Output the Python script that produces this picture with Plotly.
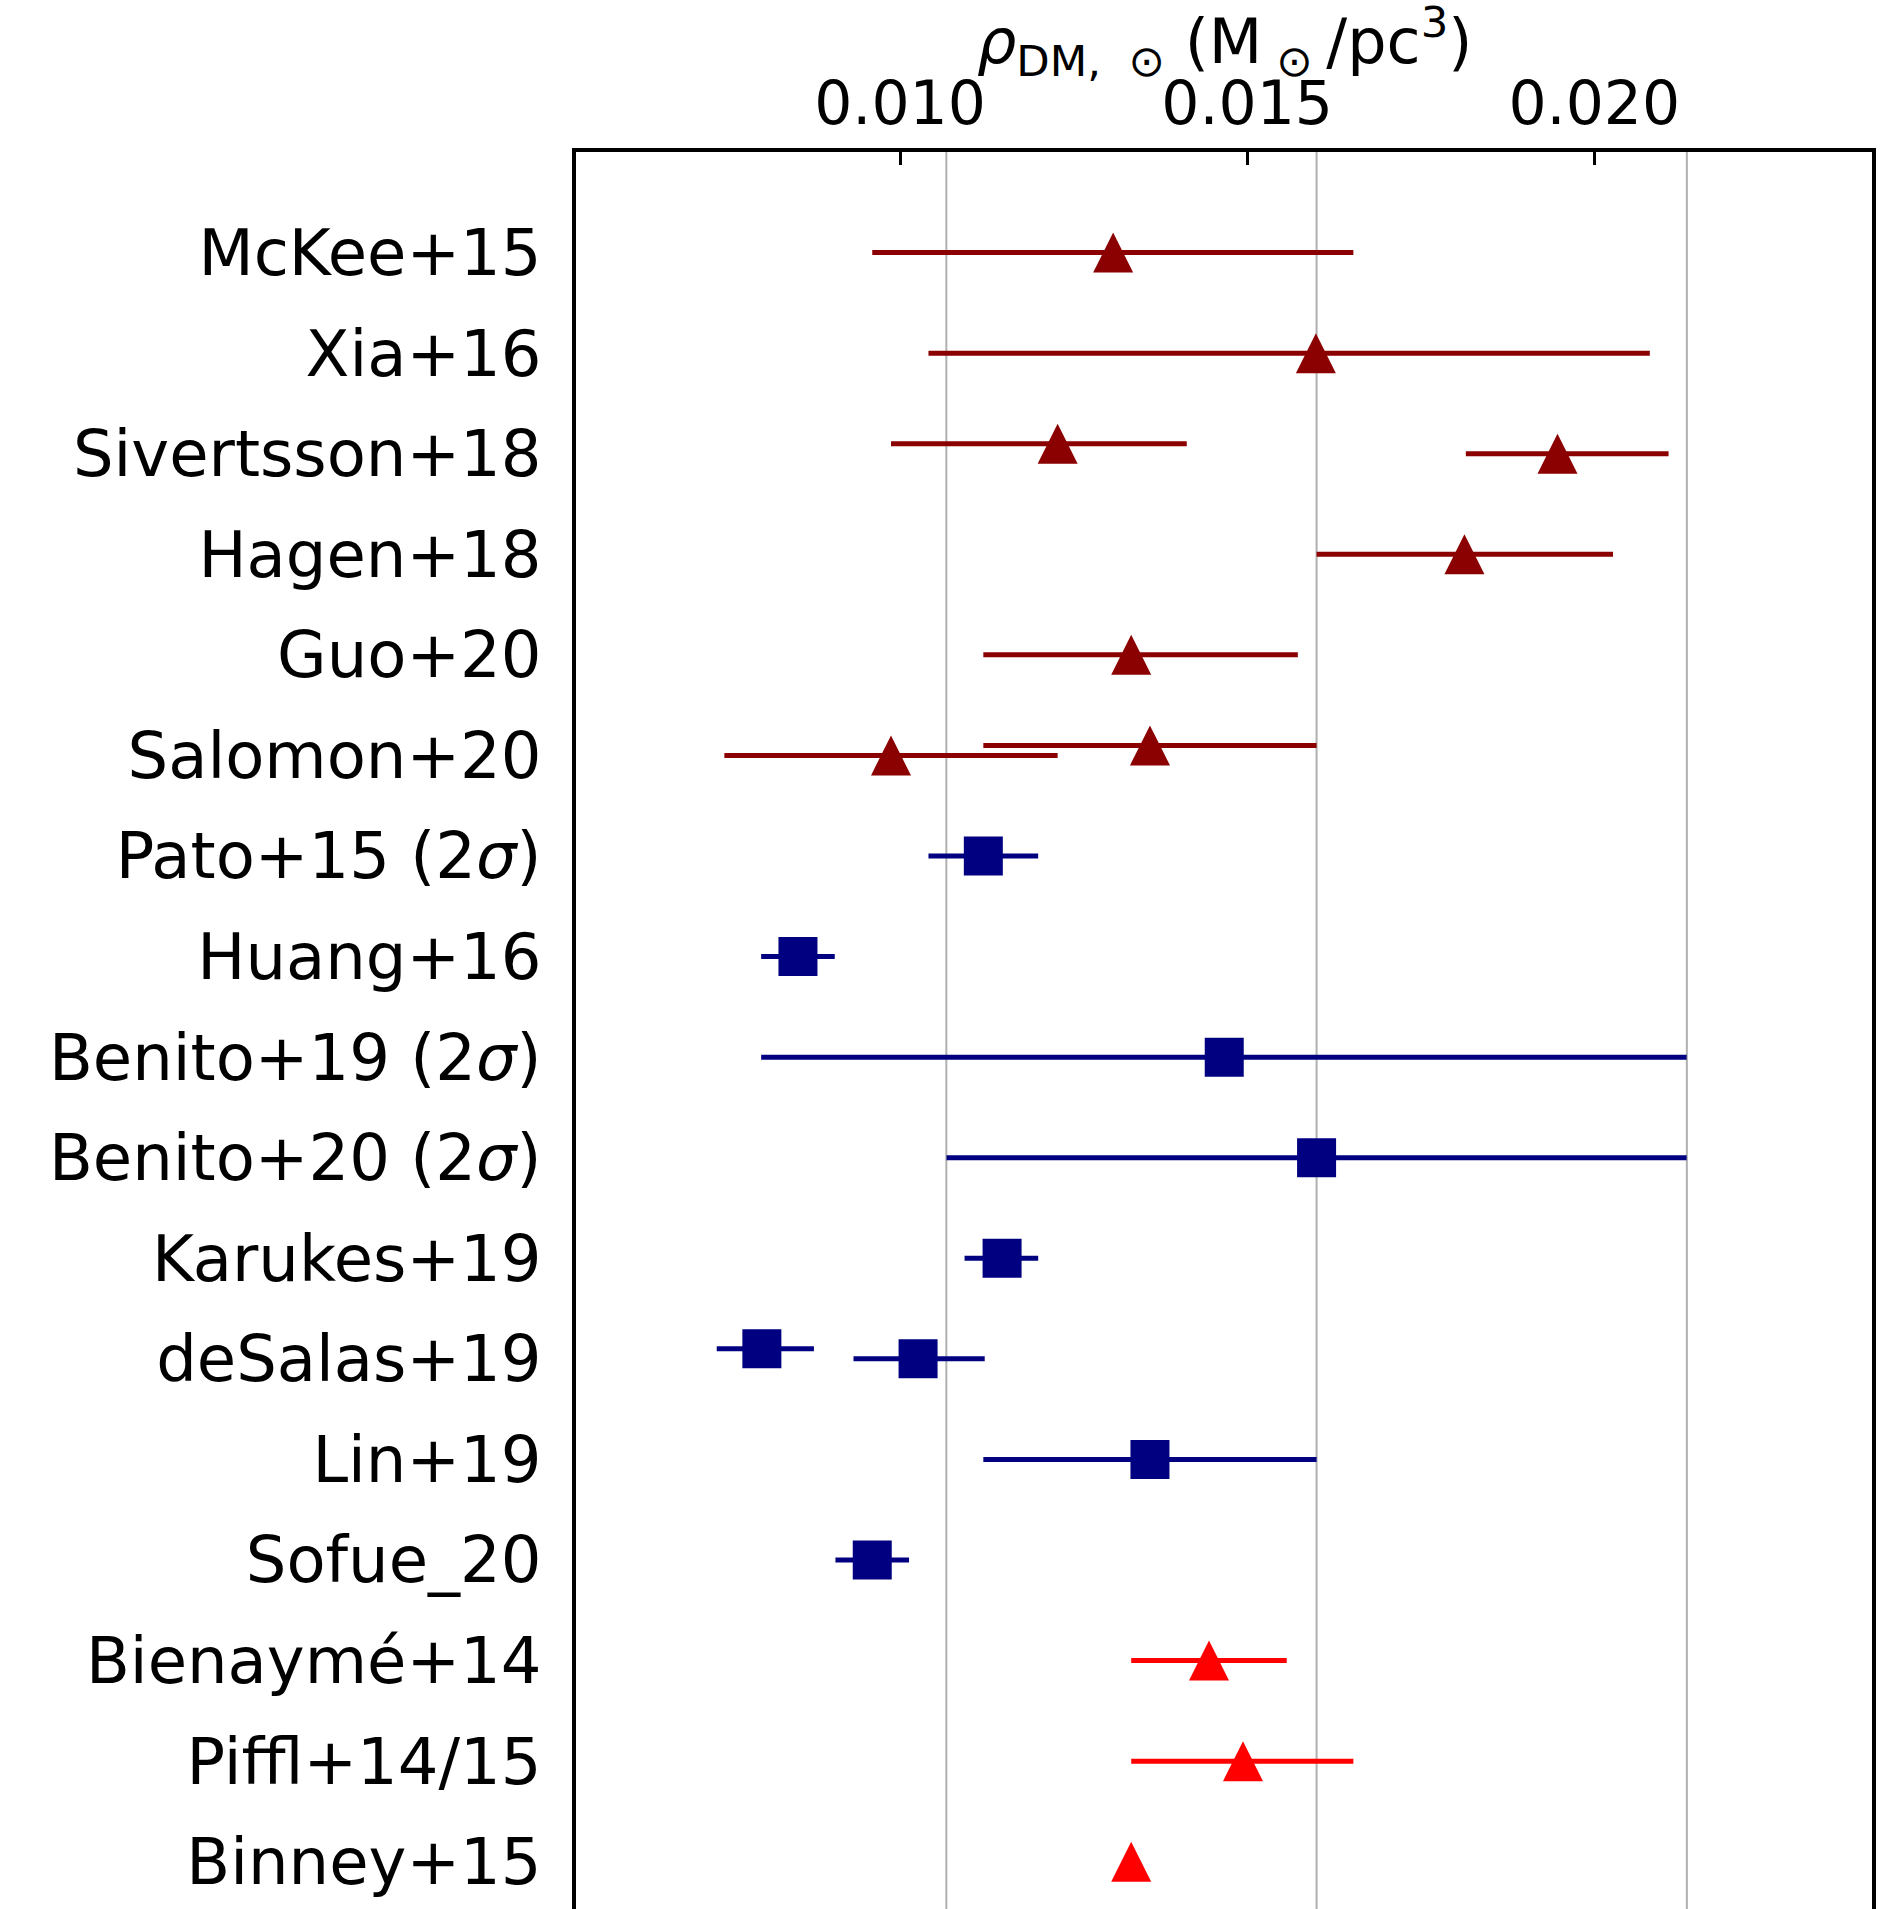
import plotly.graph_objects as go

# ---------------- data (M_sun / pc^3) ----------------
labels = ["McKee+15", "Xia+16", "Sivertsson+18", "Hagen+18", "Guo+20", "Salomon+20",
          "Pato+15 (2<i>σ</i>)", "Huang+16", "Benito+19 (2<i>σ</i>)", "Benito+20 (2<i>σ</i>)",
          "Karukes+19", "deSalas+19", "Lin+19", "Sofue_20", "Bienaymé+14", "Piffl+14/15",
          "Binney+15"]

# dark-red triangles
dr_row   = [0, 1, 2, 2, 3, 4, 5, 5]
dr_shift = [0, 0, -0.1, 0, 0, 0, 0, -0.1]
dr_val   = [0.01307, 0.01599, 0.01227, 0.01947, 0.01813, 0.01333, 0.00987, 0.01360]
dr_lo    = [0.00960, 0.01041, 0.00987, 0.01815, 0.01600, 0.01120, 0.00747, 0.01120]
dr_hi    = [0.01653, 0.02080, 0.01413, 0.02107, 0.02027, 0.01573, 0.01227, 0.01600]

# navy squares
nv_row   = [6, 7, 8, 9, 10, 11, 11, 12, 13]
nv_shift = [0, 0, 0, 0, 0, -0.1, 0, 0, 0]
nv_val   = [0.01120, 0.00853, 0.01467, 0.01600, 0.01147, 0.00801, 0.01026, 0.01360, 0.00960]
nv_lo    = [0.01041, 0.00800, 0.00800, 0.01067, 0.01093, 0.00736, 0.00933, 0.01120, 0.00907]
nv_hi    = [0.01199, 0.00906, 0.02133, 0.02133, 0.01199, 0.00876, 0.01122, 0.01600, 0.01013]

# red triangles
rd_row   = [14, 15, 16]
rd_shift = [0, 0, 0]
rd_val   = [0.01445, 0.01494, 0.01333]
rd_lo    = [0.01333, 0.01333, 0.01333]
rd_hi    = [0.01557, 0.01653, 0.01333]

x_ticks = [0.010, 0.015, 0.020]
x_ticktext = ["0.010", "0.015", "0.020"]
grid_vals = [0.010667, 0.016, 0.021333]
x_range = [0.005333, 0.024]
y_range = [16.47, -1.0]
x_title = "<i>ρ</i><sub>DM,  ⊙</sub> (M<sub> ⊙ </sub>/pc<sup>3</sup>)"

FONT = "DejaVu Sans"

fig = go.Figure()


def add_group(rows, shifts, vals, lo, hi, color, kind):
    y = [r + s for r, s in zip(rows, shifts)]
    plus = [h - v for h, v in zip(hi, vals)]
    minus = [v - l for v, l in zip(vals, lo)]
    if kind == "tri":
        marker = dict(symbol="arrow-down", angle=180, standoff=20, size=40,
                      color=color, line=dict(width=0))
    else:
        marker = dict(symbol="square", size=39, color=color, line=dict(width=0))
    fig.add_trace(go.Scatter(
        x=vals, y=y, mode="markers", marker=marker,
        error_x=dict(type="data", symmetric=False, array=plus, arrayminus=minus,
                     color=color, thickness=5, width=0),
        showlegend=False, hoverinfo="skip"))


add_group(dr_row, dr_shift, dr_val, dr_lo, dr_hi, "#8B0000", "tri")
add_group(nv_row, nv_shift, nv_val, nv_lo, nv_hi, "#000080", "sq")
add_group(rd_row, rd_shift, rd_val, rd_lo, rd_hi, "#FF0000", "tri")

for g in grid_vals:
    fig.add_shape(type="line", xref="x", yref="paper", x0=g, x1=g, y0=0, y1=1,
                  line=dict(color="#b0b0b0", width=2), layer="below")

fig.add_annotation(text=x_title, xref="paper", yref="paper", x=0.5, y=1.0364,
                   xanchor="center", yanchor="bottom", showarrow=False,
                   font=dict(size=62, family=FONT, color="black"))

fig.update_layout(
    width=1891, height=1909,
    margin=dict(l=576, r=19, t=152, b=0),
    paper_bgcolor="white", plot_bgcolor="white",
    font=dict(family=FONT, color="black"),
    xaxis=dict(
        side="top", range=x_range, tickvals=x_ticks, ticktext=x_ticktext,
        ticks="inside", ticklen=13, tickwidth=2.5, tickcolor="black",
        tickfont=dict(size=60, family=FONT), showgrid=False, zeroline=False,
        showline=True, linecolor="black", linewidth=3.5, mirror=False,
    ),
    yaxis=dict(
        range=y_range, tickvals=list(range(len(labels))), ticktext=labels,
        ticks="", tickfont=dict(size=64, family=FONT), ticklabelstandoff=18,
        showgrid=False, zeroline=False, showline=True, linecolor="black",
        linewidth=3.5, mirror=True,
    ),
)

fig.write_html("out.html")
